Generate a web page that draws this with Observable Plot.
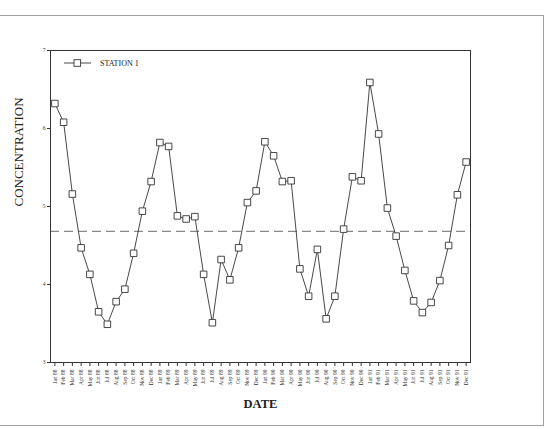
<!DOCTYPE html>
<html>
<head>
<meta charset="utf-8">
<script src="https://cdn.jsdelivr.net/npm/d3@7"></script>
<script src="https://cdn.jsdelivr.net/npm/@observablehq/plot@0.6"></script>
<style>
  html, body { margin: 0; padding: 0; background: #fff; }
  #wrap { position: relative; width: 548px; height: 429px; overflow: hidden; }
  #frame { position: absolute; left: -2px; top: 15px; width: 546px; height: 411px; border: 1px solid #a0a0a0; box-sizing: border-box; pointer-events: none; }
  svg { font-family: "Liberation Serif", "DejaVu Serif", serif; }
</style>
</head>
<body>
<div id="wrap"><div id="frame"></div></div>
<script>
const months = ["Jan 88","Feb 88","Mar 88","Apr 88","May 88","Jun 88","Jul 88","Aug 88","Sep 88","Oct 88","Nov 88","Dec 88",
  "Jan 89","Feb 89","Mar 89","Apr 89","May 89","Jun 89","Jul 89","Aug 89","Sep 89","Oct 89","Nov 89","Dec 89",
  "Jan 90","Feb 90","Mar 90","Apr 90","May 90","Jun 90","Jul 90","Aug 90","Sep 90","Oct 90","Nov 90","Dec 90",
  "Jan 91","Feb 91","Mar 91","Apr 91","May 91","Jun 91","Jul 91","Aug 91","Sep 91","Oct 91","Nov 91","Dec 91"];
const station1 = [6.32,6.08,5.16,4.47,4.13,3.65,3.49,3.78,3.94,4.40,4.94,5.32,
  5.82,5.77,4.88,4.84,4.87,4.13,3.51,4.32,4.06,4.47,5.05,5.20,
  5.83,5.65,5.32,5.33,4.20,3.85,4.45,3.56,3.85,4.71,5.38,5.33,
  6.59,5.93,4.98,4.62,4.18,3.79,3.64,3.77,4.05,4.50,5.15,5.57];
const meanLevel = [4.68];
const yTicks = [3,4,5,6,7];
const seriesName = "STATION 1";

const data = months.map((m, i) => ({month: m, value: station1[i]}));

const chart = Plot.plot({
  width: 548,
  height: 429,
  marginLeft: 50,
  marginTop: 50,
  marginRight: 78,
  marginBottom: 67,
  style: {background: "transparent", fontFamily: "'Liberation Serif', serif"},
  x: {type: "point", domain: months, padding: 0.5, label: null},
  y: {domain: [3, 7], ticks: yTicks, label: null},
  marks: [
    Plot.ruleY(meanLevel, {stroke: "#888", strokeWidth: 1.2, strokeDasharray: "9,5"}),
    Plot.frame({stroke: "#333", strokeWidth: 1}),
    Plot.axisY({ticks: yTicks, tickFormat: "d", tickSize: 3, tickPadding: 2, fontSize: 5.5, stroke: "#333", fill: "#333", label: null}),
    Plot.axisX({tickSize: 4, tickPadding: 3, tickRotate: -90, fontSize: 5.5, stroke: "#333", fill: "#333", label: null}),
    Plot.line(data, {x: "month", y: "value", stroke: "#333", strokeWidth: 0.9}),
    Plot.dot(data, {x: "month", y: "value", symbol: "square", r: 3.7, fill: "white", stroke: "#333", strokeWidth: 0.9}),
    Plot.text(["CONCENTRATION"], {frameAnchor: "left", dx: -32, rotate: -90, fontSize: 13, fill: "#222", text: d => d}),
    Plot.text(["DATE"], {frameAnchor: "bottom", dy: 45, fontSize: 12.5, fontWeight: "bold", fill: "#222", text: d => d})
  ]
});
document.getElementById("wrap").appendChild(chart);

// Legend (inside the plot frame, top-left)
const svg = d3.select(chart);
const g = svg.append("g").attr("class", "legend");
const lx = 64, ly = 63;
g.append("line").attr("x1", lx).attr("x2", lx + 27).attr("y1", ly).attr("y2", ly).attr("stroke", "#333").attr("stroke-width", 0.9);
g.append("rect").attr("x", lx + 10).attr("y", ly - 3.3).attr("width", 6.6).attr("height", 6.6).attr("fill", "white").attr("stroke", "#333").attr("stroke-width", 0.9);
g.append("text").attr("x", lx + 36).attr("y", ly).attr("dy", "0.35em").attr("text-anchor", "start").attr("font-size", 8).attr("fill", "#222").text(seriesName);
</script>
</body>
</html>
